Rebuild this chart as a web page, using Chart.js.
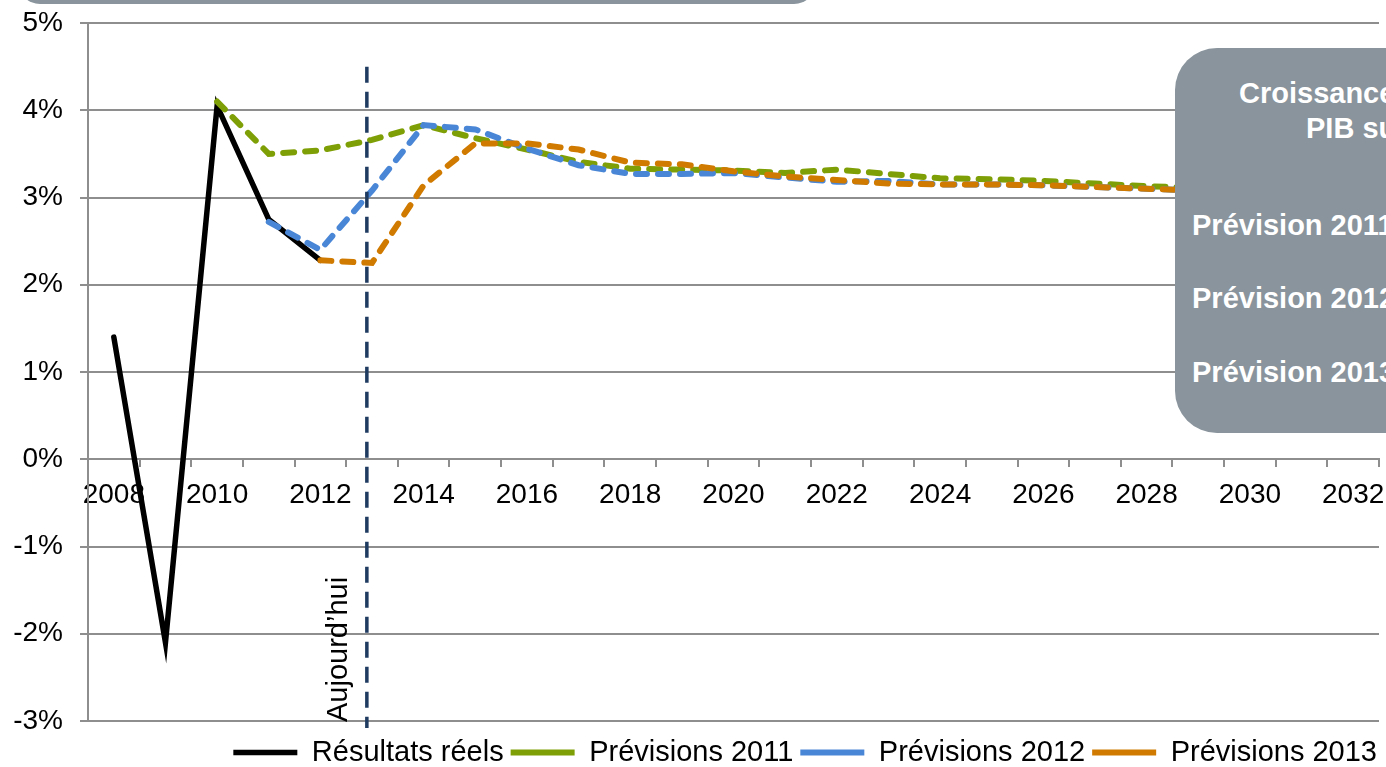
<!DOCTYPE html>
<html>
<head>
<meta charset="utf-8">
<script src="https://cdn.jsdelivr.net/npm/chart.js@4/dist/chart.umd.min.js"></script>
<style>
  html, body { margin: 0; padding: 0; background: #fff; overflow: hidden; }
  #wrap { position: relative; width: 1386px; height: 767px; }
  .panel { position: absolute; background: #89949c; }
  #topBox { left: 18px; top: -40px; width: 798px; height: 44px; border-radius: 30px; }
  #sideBox { left: 1175px; top: 48px; width: 420px; height: 385px; border-radius: 42px; }
  .boxText { position: absolute; color: #fff; font: bold 29px "Liberation Sans", Arial, sans-serif; white-space: nowrap; line-height: 32px; }
</style>
</head>
<body>
<div id="wrap">
  <canvas id="gdpChart" width="1386" height="767"></canvas>
  <div class="panel" id="topBox"></div>
  <div class="panel" id="sideBox"></div>
  <div class="boxText" style="left:1239px; top:77px;">Croissance du</div>
  <div class="boxText" style="left:1306px; top:112px;">PIB sur 20 ans</div>
  <div class="boxText" style="left:1192px; top:209px;">Prévision 2011 : 3,2%</div>
  <div class="boxText" style="left:1192px; top:282px;">Prévision 2012 : 3,1%</div>
  <div class="boxText" style="left:1192px; top:356px;">Prévision 2013 : 3,1%</div>
</div>
<script>
const years = ["2008","2009","2010","2011","2012","2013","2014","2015","2016","2017","2018","2019","2020",
  "2021","2022","2023","2024","2025","2026","2027","2028","2029","2030","2031","2032"];

const reels = [1.4, -2.1, 4.05, 2.75, 2.28, null, null, null, null, null, null, null, null,
  null, null, null, null, null, null, null, null, null, null, null, null];

const prev2011 = [null, null, 4.1, 3.5, 3.54, 3.66, 3.83, 3.68, 3.55, 3.41, 3.33, 3.32, 3.31,
  3.28, 3.32, 3.27, 3.22, 3.21, 3.19, 3.16, 3.13, 3.11, 3.1, null, null];

const prev2012 = [null, null, null, 2.72, 2.4, 3.08, 3.83, 3.78, 3.56, 3.37, 3.27, 3.27, 3.28,
  3.23, 3.18, 3.19, 3.15, 3.15, 3.14, 3.12, 3.1, 3.08, 3.07, null, null];

const prev2013 = [null, null, null, null, 2.28, 2.25, 3.14, 3.62, 3.62, 3.55, 3.4, 3.38, 3.3,
  3.24, 3.2, 3.16, 3.15, 3.15, 3.14, 3.12, 3.1, 3.08, 3.07, null, null];

// position of the "Aujourd'hui" marker on the category axis, and its vertical extent in %
const todayIndex = 4.9;
const todayTop = 4.5;
const todayBottom = -3.08;
const todayLabel = "Aujourd\u2019hui";

const FONT = '"Liberation Sans", Arial, sans-serif';
const GRID = "#8e8e8e";

const todayPlugin = {
  id: "todayLine",
  afterLayout(chart) {
    // legend sits a little lower and further right than Chart.js puts it
    chart.legend.top += 10;
    chart.legend.bottom += 10;
    chart.legend.left += 5;
    chart.legend.right += 5;
  },
  afterDatasetsDraw(chart) {
    const x = chart.scales.x.getPixelForValue(todayIndex);
    const y = chart.scales.y;
    const ctx = chart.ctx;
    ctx.save();
    ctx.strokeStyle = "#1f3b60";
    ctx.lineWidth = 3.5;
    ctx.setLineDash([16, 9]);
    ctx.beginPath();
    ctx.moveTo(x, y.getPixelForValue(todayTop));
    ctx.lineTo(x, y.getPixelForValue(todayBottom));
    ctx.stroke();

    ctx.translate(x - 28, y.getPixelForValue(-3) + 1);
    ctx.rotate(-Math.PI / 2);
    ctx.fillStyle = "#000";
    ctx.font = "29px " + FONT;
    ctx.textAlign = "left";
    ctx.textBaseline = "middle";
    ctx.fillText(todayLabel, 0, 0);
    ctx.restore();
  }
};

const dash = [11, 11];

new Chart(document.getElementById("gdpChart"), {
  type: "line",
  data: {
    labels: years,
    datasets: [
      {
        label: "Résultats réels",
        data: reels,
        borderColor: "#000000",
        backgroundColor: "#000000",
        borderWidth: 5.5,
        borderCapStyle: "round",
        order: 4
      },
      {
        label: "Prévisions 2011",
        data: prev2011,
        borderColor: "#7f9f06",
        backgroundColor: "#7f9f06",
        borderWidth: 6,
        borderDash: dash,
        borderCapStyle: "round",
        order: 3
      },
      {
        label: "Prévisions 2012",
        data: prev2012,
        borderColor: "#4a86d6",
        backgroundColor: "#4a86d6",
        borderWidth: 6,
        borderDash: dash,
        borderCapStyle: "round",
        order: 2
      },
      {
        label: "Prévisions 2013",
        data: prev2013,
        borderColor: "#d07a00",
        backgroundColor: "#d07a00",
        borderWidth: 6,
        borderDash: dash,
        borderCapStyle: "round",
        order: 1
      }
    ]
  },
  options: {
    responsive: false,
    animation: false,
    events: [],
    elements: {
      point: { radius: 0 },
      line: { tension: 0, spanGaps: false }
    },
    layout: { padding: { top: 23, right: 7, bottom: 0, left: 0 } },
    scales: {
      x: {
        position: { y: 0 },
        offset: true,
        afterFit: (scale) => {
          scale.paddingLeft = 0;
          scale.paddingRight = 0;
        },
        grid: {
          display: true,
          drawOnChartArea: false,
          drawTicks: true,
          tickLength: 7,
          offset: true,
          color: GRID,
          lineWidth: 2
        },
        border: { display: true, color: GRID, width: 2 },
        ticks: {
          autoSkip: false,
          maxRotation: 0,
          padding: 12,
          color: "#000",
          font: { family: FONT, size: 28 },
          callback: (v, i) => (i % 2 === 0 ? years[i] : "")
        }
      },
      y: {
        min: -3,
        max: 5,
        afterFit: (scale) => {
          scale.width = 88;
          scale.paddingTop = 0;
          scale.paddingBottom = 0;
        },
        grid: {
          color: GRID,
          lineWidth: 2,
          tickLength: 8
        },
        border: { display: true, color: GRID, width: 2 },
        ticks: {
          stepSize: 1,
          padding: 17,
          color: "#000",
          font: { family: FONT, size: 28 },
          callback: (v) => v + "%"
        }
      }
    },
    plugins: {
      tooltip: { enabled: false },
      legend: {
        position: "bottom",
        align: "end",
        labels: {
          usePointStyle: true,
          pointStyle: "line",
          pointStyleWidth: 64,
          boxWidth: 64,
          padding: 7,
          color: "#000",
          font: { family: FONT, size: 29 },
          sort: (a, b) => a.datasetIndex - b.datasetIndex
        }
      }
    }
  },
  plugins: [todayPlugin]
});
</script>
</body>
</html>
